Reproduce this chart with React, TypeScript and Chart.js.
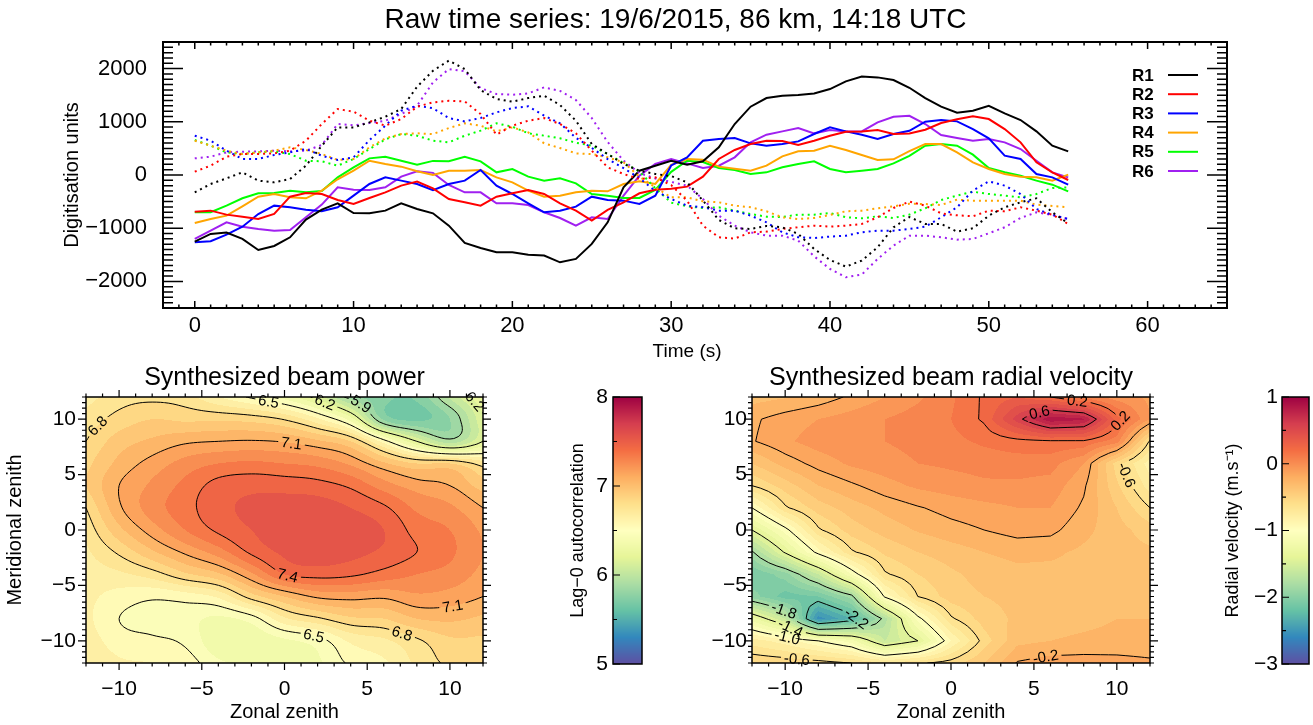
import React, { useEffect, useRef } from 'react';
import { Chart, registerables } from 'chart.js';

Chart.register(...registerables);

const FONT = "'Liberation Sans', Arial, Helvetica, sans-serif";
Chart.defaults.font.family = FONT;
Chart.defaults.color = '#000';

// ---------------- time series data ----------------
const timeSec = [0,1,2,3,4,5,6,7,8,9,10,11,12,13,14,15,16,17,18,19,20,21,22,23,24,25,26,27,28,29,30,31,32,33,34,35,36,37,38,39,40,41,42,43,44,45,46,47,48,49,50,51,52,53,54,55];

const r1Solid = [-1252,-1108,-1080,-1202,-1409,-1334,-1171,-839,-651,-532,-714,-720,-670,-532,-639,-720,-952,-1277,-1371,-1453,-1453,-1497,-1515,-1641,-1578,-1296,-889,-232,81,175,269,194,257,520,958,1284,1447,1490,1503,1534,1616,1760,1853,1835,1785,1640,1447,1284,1171,1208,1302,1158,1033,820,551,445];
const r2Solid = [-689,-670,-745,-783,-827,-733,-407,-338,-357,-470,-545,-432,-326,-200,-125,-250,-451,-513,-576,-407,-344,-282,-357,-532,-670,-858,-657,-513,-344,-276,-260,-219,-31,301,470,582,645,639,564,645,739,814,820,845,770,780,852,977,1046,1102,1052,864,614,238,50,-94];
const r3Solid = [-1265,-1246,-1121,-971,-733,-576,-607,-651,-682,-607,-388,-169,-44,-106,-169,-285,-169,-106,94,-200,-357,-532,-701,-670,-595,-407,-470,-482,-545,-388,180,332,645,676,695,595,551,582,632,770,895,820,758,676,770,830,1002,1033,1008,864,689,363,301,19,-44,-182];
const r4Solid = [-902,-827,-764,-588,-407,-357,-420,-438,-294,-80,81,269,207,157,69,0,81,81,94,-44,-138,-294,-407,-388,-326,-294,-307,-169,-119,-169,190,301,288,157,119,81,175,351,445,457,551,470,376,282,294,450,582,582,426,238,113,19,-31,-44,-106,6];
const r5Solid = [-701,-701,-576,-438,-344,-338,-294,-326,-300,-44,144,313,344,269,194,265,257,344,257,50,113,-31,-106,-63,-157,-357,-388,-432,-432,-280,60,269,244,131,94,19,50,144,207,257,113,50,81,113,219,360,551,582,551,382,131,50,-13,-106,-182,-307];
const r6Solid = [-1202,-1046,-889,-971,-1015,-1046,-1033,-795,-557,-232,-276,-282,-232,-31,69,40,-188,-326,-326,-532,-532,-564,-701,-808,-952,-795,-827,-388,-13,207,301,219,131,175,332,614,758,820,883,783,845,820,820,989,1096,1112,958,751,695,645,676,614,488,269,50,-44];

const r1Dotted = [-326,-169,-63,50,-106,-138,-75,175,551,895,895,989,1096,1240,1660,1960,2150,1991,1597,1428,1378,1447,1490,1315,1021,582,394,207,81,19,-20,-138,-480,-845,-1002,-1014,-958,-983,-1108,-1390,-1597,-1722,-1609,-1359,-983,-790,-920,-920,-1064,-1002,-764,-607,-513,-438,-701,-908];
const r2Dotted = [63,175,344,394,394,407,457,645,958,1240,1190,1021,927,1052,1284,1365,1396,1384,1146,758,927,1021,1071,958,783,457,144,19,-75,-44,-190,-482,-952,-1171,-1196,-1077,-1064,-1014,-983,-952,-971,-952,-920,-795,-620,-500,-576,-720,-758,-776,-670,-682,-607,-670,-745,-920];
const r3Dotted = [739,645,457,301,301,376,426,488,363,282,332,657,927,1208,1302,1255,1071,1008,1071,1177,1259,1290,1115,971,700,510,300,130,-60,-300,-450,-576,-607,-670,-670,-764,-889,-1077,-1171,-1184,-1158,-1140,-1077,-1046,-1046,-1014,-971,-795,-607,-294,-119,-200,-357,-639,-751,-827];
const r4Dotted = [645,551,457,394,426,457,520,470,394,282,301,520,689,770,783,770,883,971,927,820,895,801,595,507,407,394,332,238,-31,-232,-420,-420,-495,-513,-576,-607,-682,-795,-827,-808,-751,-682,-670,-626,-589,-540,-545,-564,-463,-482,-482,-482,-482,-557,-582,-607];
const r5Dotted = [657,551,426,394,426,444,394,269,257,175,301,488,670,770,739,645,614,739,833,971,908,783,739,689,607,551,394,225,69,-250,-520,-589,-620,-607,-670,-733,-783,-789,-745,-745,-714,-795,-814,-776,-808,-745,-626,-470,-388,-313,-357,-388,-420,-357,-244,-232];
const r6Dotted = [313,344,426,438,444,457,444,457,564,958,933,977,1021,1146,1302,1741,1991,1950,1634,1522,1509,1534,1647,1580,1409,1071,620,270,35,-65,-130,-200,-451,-764,-952,-1077,-1140,-1140,-1234,-1528,-1766,-1922,-1872,-1578,-1328,-1140,-1140,-1171,-1215,-1202,-1096,-983,-808,-701,-751,-827];

const seriesNames = ['R1', 'R2', 'R3', 'R4', 'R5', 'R6'];
const seriesColors = ['#000000', '#ff0000', '#0000ff', '#ffa500', '#00ff00', '#a020f0'];

const timeTicks = [0, 10, 20, 30, 40, 50, 60];
const digitTicks = [-2000, -1000, 0, 1000, 2000];

// ---------------- beam maps (grid nodes) ----------------
const zonalNodes = [-12, -10, -8, -6, -4, -2, 0, 2, 4, 6, 8, 10, 12];
const meridNodes = [12, 10, 8, 6, 4, 2, 0, -2, -4, -6, -8, -10, -12];
const zenithTicks = [-10, -5, 0, 5, 10];

const powerRows = [
  [6.66, 6.75, 6.77, 6.74, 6.60, 6.48, 6.35, 6.15, 5.85, 5.72, 5.72, 6.02, 6.30],
  [6.74, 6.84, 6.90, 6.88, 6.88, 6.86, 6.79, 6.62, 6.35, 5.78, 5.68, 5.80, 6.18],
  [6.80, 6.95, 7.02, 7.08, 7.10, 7.11, 7.09, 7.02, 6.90, 6.55, 6.20, 5.95, 6.20],
  [6.87, 7.03, 7.14, 7.24, 7.30, 7.32, 7.30, 7.27, 7.18, 7.02, 6.90, 6.90, 6.75],
  [6.90, 7.10, 7.22, 7.33, 7.44, 7.47, 7.46, 7.44, 7.38, 7.25, 7.15, 7.10, 6.95],
  [6.80, 7.08, 7.25, 7.36, 7.47, 7.52, 7.55, 7.55, 7.50, 7.42, 7.28, 7.22, 7.10],
  [6.73, 6.97, 7.15, 7.30, 7.42, 7.50, 7.56, 7.58, 7.56, 7.50, 7.36, 7.30, 7.18],
  [6.68, 6.82, 6.98, 7.12, 7.25, 7.42, 7.52, 7.55, 7.53, 7.48, 7.40, 7.32, 7.20],
  [6.65, 6.68, 6.75, 6.88, 6.98, 7.18, 7.40, 7.44, 7.42, 7.36, 7.30, 7.26, 7.17],
  [6.63, 6.56, 6.52, 6.55, 6.62, 6.85, 7.00, 7.12, 7.14, 7.12, 7.18, 7.16, 7.10],
  [6.63, 6.50, 6.46, 6.44, 6.38, 6.45, 6.68, 6.78, 6.88, 6.90, 7.00, 7.02, 6.98],
  [6.66, 6.55, 6.52, 6.48, 6.33, 6.33, 6.38, 6.45, 6.62, 6.68, 6.78, 6.88, 6.88],
  [6.70, 6.62, 6.60, 6.56, 6.42, 6.38, 6.35, 6.38, 6.52, 6.58, 6.72, 6.82, 6.82],
];

const velocityRows = [
  [-0.34, -0.31, -0.26, -0.18, -0.10, -0.02, 0.08, 0.22, 0.30, 0.20, 0.05, -0.05, -0.12],
  [-0.22, -0.15, -0.10, -0.05, 0.00, 0.05, 0.10, 0.22, 0.55, 0.88, 0.82, 0.25, -0.10],
  [-0.21, -0.12, -0.05, -0.02, 0.00, 0.03, 0.07, 0.12, 0.16, 0.18, 0.18, 0.05, -0.62],
  [-0.40, -0.26, -0.16, -0.08, -0.04, 0.00, 0.02, 0.04, 0.05, 0.04, -0.10, -0.55, -0.85],
  [-0.60, -0.45, -0.30, -0.22, -0.14, -0.08, -0.05, -0.02, -0.02, -0.04, -0.18, -0.48, -0.75],
  [-1.00, -0.62, -0.45, -0.35, -0.27, -0.21, -0.16, -0.13, -0.10, -0.10, -0.22, -0.40, -0.60],
  [-1.40, -1.05, -0.62, -0.45, -0.36, -0.29, -0.24, -0.20, -0.16, -0.17, -0.27, -0.36, -0.45],
  [-1.82, -1.38, -0.95, -0.62, -0.48, -0.40, -0.35, -0.30, -0.27, -0.28, -0.32, -0.36, -0.38],
  [-2.10, -1.95, -1.60, -1.10, -0.62, -0.50, -0.42, -0.36, -0.33, -0.33, -0.33, -0.33, -0.33],
  [-1.95, -2.15, -2.10, -1.85, -0.98, -0.60, -0.45, -0.40, -0.37, -0.36, -0.34, -0.33, -0.32],
  [-1.25, -1.60, -2.55, -2.30, -1.75, -1.05, -0.62, -0.45, -0.38, -0.35, -0.33, -0.30, -0.30],
  [-0.75, -0.85, -1.00, -1.15, -1.60, -1.40, -0.90, -0.55, -0.33, -0.30, -0.28, -0.27, -0.27],
  [-0.50, -0.52, -0.55, -0.60, -0.68, -0.62, -0.55, -0.40, -0.19, -0.15, -0.15, -0.16, -0.18],
];

const powerLevels = [5.9, 6.2, 6.5, 6.8, 7.1, 7.4];
const velocityLevels = [-2.2, -1.8, -1.4, -1.0, -0.6, -0.2, 0.2, 0.6];

const powerLabels = [
  { x: -11.3, y: 9.4, text: '6.8' },
  { x: -1.0, y: 11.2, text: '6.5' },
  { x: 2.3, y: 10.9, text: '6.2' },
  { x: 4.4, y: 10.9, text: '5.9' },
  { x: 10.7, y: 10.6, text: '6.2' },
  { x: 0.4, y: 7.5, text: '7.1' },
  { x: 0.3, y: -3.6, text: '7.4' },
  { x: 10.2, y: -7.2, text: '7.1' },
  { x: 6.8, y: -10.2, text: '6.8' },
  { x: 1.7, y: -9.9, text: '6.5' },
];
const velocityLabels = [
  { x: 5.3, y: 11.3, text: '0.6' },
  { x: 7.6, y: 11.4, text: '0.2' },
  { x: 10.6, y: 9.3, text: '0.2' },
  { x: 10.8, y: 5.1, text: '-0.6' },
  { x: -10.1, y: -7.4, text: '-1.8' },
  { x: -9.6, y: -8.6, text: '-1.4' },
  { x: -9.9, y: -9.9, text: '-1.0' },
  { x: -9.3, y: -11.7, text: '-0.6' },
  { x: -5.4, y: -7.4, text: '-2.2' },
  { x: 5.7, y: -11.4, text: '-0.2' },
];

const powerBarTicks = [5, 6, 7, 8];
const velocityBarTicks = [-3, -2, -1, 0, 1];

// ---------------- helpers ----------------
const SPECTRAL = ['#5e4fa2', '#3288bd', '#66c2a5', '#abdda4', '#e6f598', '#ffffbf', '#fee08b', '#fdae61', '#f46d43', '#d53e4f', '#9e0142'];
const SPECTRAL_RGB = SPECTRAL.map((h) => [parseInt(h.slice(1, 3), 16), parseInt(h.slice(3, 5), 16), parseInt(h.slice(5, 7), 16)]);

function cmap(t: number): [number, number, number] {
  const u = Math.max(0, Math.min(1, t)) * (SPECTRAL_RGB.length - 1);
  const i = Math.min(SPECTRAL_RGB.length - 2, Math.floor(u));
  const f = u - i;
  const a = SPECTRAL_RGB[i], b = SPECTRAL_RGB[i + 1];
  return [a[0] + (b[0] - a[0]) * f, a[1] + (b[1] - a[1]) * f, a[2] + (b[2] - a[2]) * f];
}

const fmtTick = (v: any) => String(v).replace('-', '\u2212');

function catmull(p0: number, p1: number, p2: number, p3: number, t: number) {
  const t2 = t * t, t3 = t2 * t;
  return 0.5 * (2 * p1 + (-p0 + p2) * t + (2 * p0 - 5 * p1 + 4 * p2 - p3) * t2 + (-p0 + 3 * p1 - 3 * p2 + p3) * t3);
}

// field reconstruction between grid nodes (bilinear or Catmull-Rom, as a contouring routine does)
function makeInterp(gx: number[], gy: number[], rows: number[][], smooth: boolean) {
  const nx = gx.length, ny = gy.length;
  const at = (j: number, i: number): number => {
    if (i < 0) return 2 * at(j, 0) - at(j, 1);
    if (i > nx - 1) return 2 * at(j, nx - 1) - at(j, nx - 2);
    if (j < 0) return 2 * at(0, i) - at(1, i);
    if (j > ny - 1) return 2 * at(ny - 1, i) - at(ny - 2, i);
    return rows[j][i];
  };
  return (x: number, y: number) => {
    let i = 0;
    while (i < nx - 2 && x > gx[i + 1]) i++;
    let j = 0;
    while (j < ny - 2 && y < gy[j + 1]) j++;
    const tx = Math.max(0, Math.min(1, (x - gx[i]) / (gx[i + 1] - gx[i])));
    const ty = Math.max(0, Math.min(1, (gy[j] - y) / (gy[j] - gy[j + 1])));
    if (!smooth) {
      const a = rows[j][i], b = rows[j][i + 1], c = rows[j + 1][i], d = rows[j + 1][i + 1];
      return a * (1 - tx) * (1 - ty) + b * tx * (1 - ty) + c * (1 - tx) * ty + d * tx * ty;
    }
    const r: number[] = [];
    for (let k = -1; k <= 2; k++) {
      r.push(catmull(at(j + k, i - 1), at(j + k, i), at(j + k, i + 1), at(j + k, i + 2), tx));
    }
    return catmull(r[0], r[1], r[2], r[3], ty);
  };
}

function makeContourPlugin(cfg: any) {
  return {
    id: 'contourField',
    beforeDatasetsDraw(chart: any) {
      const { ctx, chartArea: a } = chart;
      const xs = chart.scales.x, ys = chart.scales.y;
      const f = makeInterp(cfg.gx, cfg.gy, cfg.rows, cfg.smooth);
      const { lo, hi, step } = cfg;

      // filled bands
      const w = Math.round(a.right - a.left), h = Math.round(a.bottom - a.top);
      const off = document.createElement('canvas');
      off.width = w; off.height = h;
      const octx = off.getContext('2d')!;
      const img = octx.createImageData(w, h);
      const cache: Record<number, [number, number, number]> = {};
      const xv = new Array(w);
      for (let i = 0; i < w; i++) xv[i] = xs.getValueForPixel(a.left + i + 0.5);
      for (let j = 0; j < h; j++) {
        const yv = ys.getValueForPixel(a.top + j + 0.5);
        for (let i = 0; i < w; i++) {
          const v = f(xv[i], yv);
          const band = Math.floor((v - lo) / step);
          let c = cache[band];
          if (!c) { c = cmap((lo + (band + 0.5) * step - lo) / (hi - lo)); cache[band] = c; }
          const k = (j * w + i) * 4;
          img.data[k] = c[0]; img.data[k + 1] = c[1]; img.data[k + 2] = c[2]; img.data[k + 3] = 255;
        }
      }
      octx.putImageData(img, 0, 0);
      ctx.drawImage(off, a.left, a.top);

      // labels: snap to contour & orientation
      const sx = 1 / (xs.getPixelForValue(1) - xs.getPixelForValue(0));
      const sy = 1 / (ys.getPixelForValue(1) - ys.getPixelForValue(0));
      ctx.save();
      ctx.font = `${cfg.labelSize}px ${FONT}`;
      const placed = cfg.labels.map((lab: any) => {
        const L = parseFloat(lab.text);
        let x = lab.x, y = lab.y;
        let gxp = 0, gyp = 0;
        for (let k = 0; k < 12; k++) {
          const e = 0.02;
          const v = f(x, y);
          const dvdx = (f(x + e, y) - f(x - e, y)) / (2 * e);
          const dvdy = (f(x, y + e) - f(x, y - e)) / (2 * e);
          gxp = dvdx * sx; gyp = dvdy * sy;
          const g2 = gxp * gxp + gyp * gyp;
          if (g2 < 1e-12) break;
          let dpx = -(v - L) * gxp / g2, dpy = -(v - L) * gyp / g2;
          const m = Math.hypot(dpx, dpy);
          if (m > 10) { dpx *= 10 / m; dpy *= 10 / m; }
          x += dpx * sx; y += dpy * sy;
        }
        let ang = Math.atan2(gxp, -gyp);
        if (ang > Math.PI / 2) ang -= Math.PI;
        if (ang < -Math.PI / 2) ang += Math.PI;
        const px = xs.getPixelForValue(x), py = ys.getPixelForValue(y);
        const tw = ctx.measureText(lab.text).width;
        return { px, py, ang, tw, text: lab.text };
      });

      // contour lines with gaps around labels
      ctx.beginPath();
      ctx.rect(a.left, a.top, a.right - a.left, a.bottom - a.top);
      for (const p of placed) {
        const hw = p.tw / 2 + 3, hh = cfg.labelSize * 0.5;
        const ca = Math.cos(p.ang), sa = Math.sin(p.ang);
        const pts = [[-hw, -hh], [hw, -hh], [hw, hh], [-hw, hh]].map(([u, v]) => [p.px + u * ca - v * sa, p.py + u * sa + v * ca]);
        ctx.moveTo(pts[0][0], pts[0][1]);
        for (let k = 1; k < 4; k++) ctx.lineTo(pts[k][0], pts[k][1]);
        ctx.closePath();
      }
      ctx.clip('evenodd');

      const S = cfg.smooth ? 8 : 4;
      const LX: number[] = [], LY: number[] = [];
      for (let i = 0; i < cfg.gx.length - 1; i++) for (let s = 0; s < S; s++) LX.push(cfg.gx[i] + (cfg.gx[i + 1] - cfg.gx[i]) * s / S);
      LX.push(cfg.gx[cfg.gx.length - 1]);
      for (let j = 0; j < cfg.gy.length - 1; j++) for (let s = 0; s < S; s++) LY.push(cfg.gy[j] + (cfg.gy[j + 1] - cfg.gy[j]) * s / S);
      LY.push(cfg.gy[cfg.gy.length - 1]);
      const F = LY.map((y) => LX.map((x) => f(x, y)));
      const PX = LX.map((x) => xs.getPixelForValue(x));
      const PY = LY.map((y) => ys.getPixelForValue(y));
      ctx.strokeStyle = '#000';
      ctx.lineWidth = 1;
      for (const L of cfg.levels) {
        ctx.beginPath();
        for (let j = 0; j < LY.length - 1; j++) {
          for (let i = 0; i < LX.length - 1; i++) {
            const va = F[j][i], vb = F[j][i + 1], vc = F[j + 1][i + 1], vd = F[j + 1][i];
            const ax = PX[i], bx = PX[i + 1], ty = PY[j], by = PY[j + 1];
            const cross = (v1: number, v2: number, x1: number, y1: number, x2: number, y2: number) => {
              if ((v1 > L) === (v2 > L)) return null;
              const t = (L - v1) / (v2 - v1);
              return [x1 + (x2 - x1) * t, y1 + (y2 - y1) * t];
            };
            const eTop = cross(va, vb, ax, ty, bx, ty);
            const eRight = cross(vb, vc, bx, ty, bx, by);
            const eBottom = cross(vd, vc, ax, by, bx, by);
            const eLeft = cross(va, vd, ax, ty, ax, by);
            const es = [eTop, eRight, eBottom, eLeft].filter((e) => e) as number[][];
            const seg = (p: any, q: any) => { ctx.moveTo(p[0], p[1]); ctx.lineTo(q[0], q[1]); };
            if (es.length === 2) seg(es[0], es[1]);
            else if (es.length === 4) {
              const m = (va + vb + vc + vd) / 4;
              if ((m > L) === (va > L)) { seg(eTop, eRight); seg(eBottom, eLeft); }
              else { seg(eTop, eLeft); seg(eRight, eBottom); }
            }
          }
        }
        ctx.stroke();
      }
      ctx.restore();

      // label text
      ctx.save();
      ctx.font = `${cfg.labelSize}px ${FONT}`;
      ctx.fillStyle = '#000';
      ctx.textAlign = 'center';
      ctx.textBaseline = 'middle';
      for (const p of placed) {
        ctx.save();
        ctx.translate(p.px, p.py);
        ctx.rotate(p.ang);
        ctx.fillText(p.text, 0, 1);
        ctx.restore();
      }
      ctx.restore();
    },
  };
}

function makeColorbarPlugin(lo: number, hi: number) {
  return {
    id: 'colorbarFill',
    beforeDatasetsDraw(chart: any) {
      const { ctx, chartArea: a } = chart;
      const ys = chart.scales.y;
      for (let py = Math.floor(a.top); py < Math.ceil(a.bottom); py++) {
        const v = ys.getValueForPixel(py + 0.5);
        const c = cmap((v - lo) / (hi - lo));
        ctx.fillStyle = `rgb(${Math.round(c[0])},${Math.round(c[1])},${Math.round(c[2])})`;
        ctx.fillRect(a.left, py, a.right - a.left, 1);
      }
    },
  };
}

function makeFramePlugin(cfg: any) {
  return {
    id: 'frameTicks',
    afterDraw(chart: any) {
      const { ctx, chartArea: a } = chart;
      const xs = chart.scales.x, ys = chart.scales.y;
      const s = cfg.inward ? 1 : -1;
      ctx.save();
      ctx.strokeStyle = '#000';
      ctx.lineWidth = cfg.tickWidth;
      ctx.lineCap = 'butt';
      ctx.beginPath();
      const collect = (scale: any, spec: any) => {
        const out: number[][] = [];
        for (const v of spec.major) out.push([v, spec.majorLen]);
        const st = spec.minorStep;
        for (let k = Math.ceil(scale.min / st - 1e-9); k * st <= scale.max + 1e-9; k++) {
          const v = k * st;
          if (!spec.major.some((m: number) => Math.abs(m - v) < 1e-9)) out.push([v, spec.minorLen]);
        }
        return out;
      };
      if (cfg.x) {
        for (const [v, len] of collect(xs, cfg.x)) {
          const p = xs.getPixelForValue(v);
          if (p < a.left - 0.5 || p > a.right + 0.5) continue;
          if (cfg.x.bottom) { ctx.moveTo(p, a.bottom); ctx.lineTo(p, a.bottom - s * len); }
          if (cfg.x.top) { ctx.moveTo(p, a.top); ctx.lineTo(p, a.top + s * len); }
        }
      }
      if (cfg.y) {
        for (const [v, len] of collect(ys, cfg.y)) {
          const p = ys.getPixelForValue(v);
          if (p < a.top - 0.5 || p > a.bottom + 0.5) continue;
          if (cfg.y.left) { ctx.moveTo(a.left, p); ctx.lineTo(a.left + s * len, p); }
          if (cfg.y.right) { ctx.moveTo(a.right, p); ctx.lineTo(a.right - s * len, p); }
        }
      }
      ctx.stroke();
      ctx.lineWidth = cfg.frameWidth;
      ctx.strokeRect(a.left, a.top, a.right - a.left, a.bottom - a.top);
      ctx.restore();
    },
  };
}

function makeLegendPlugin(cfg: any) {
  return {
    id: 'seriesLegend',
    afterDatasetsDraw(chart: any) {
      const { ctx } = chart;
      const items = chart.data.datasets.filter((d: any) => d.inLegend);
      ctx.save();
      ctx.font = `bold ${cfg.size}px ${FONT}`;
      ctx.textBaseline = 'middle';
      ctx.textAlign = 'left';
      items.forEach((d: any, k: number) => {
        const y = cfg.y0 + k * cfg.dy;
        ctx.fillStyle = '#000';
        ctx.fillText(d.label, cfg.textX, y + 1);
        ctx.strokeStyle = d.borderColor;
        ctx.lineWidth = 2;
        ctx.beginPath();
        ctx.moveTo(cfg.lineX0, y);
        ctx.lineTo(cfg.lineX1, y);
        ctx.stroke();
      });
      ctx.restore();
    },
  };
}

const tickFont = (size: number) => ({ family: FONT, size, weight: 'normal' as const });

// ---------------- chart builders ----------------
function buildTimeSeries(canvas: HTMLCanvasElement) {
  const solid = [r1Solid, r2Solid, r3Solid, r4Solid, r5Solid, r6Solid];
  const dotted = [r1Dotted, r2Dotted, r3Dotted, r4Dotted, r5Dotted, r6Dotted];
  const datasets: any[] = [];
  dotted.forEach((arr, k) => datasets.push({
    label: seriesNames[k] + ' (dotted)', data: timeSec.map((t, i) => ({ x: t, y: arr[i] })),
    borderColor: seriesColors[k], borderWidth: 2, borderDash: [2, 4], pointRadius: 0, tension: 0, fill: false, inLegend: false,
  }));
  solid.forEach((arr, k) => datasets.push({
    label: seriesNames[k], data: timeSec.map((t, i) => ({ x: t, y: arr[i] })),
    borderColor: seriesColors[k], borderWidth: 2, pointRadius: 0, tension: 0, fill: false, inLegend: true,
  }));
  return new Chart(canvas, {
    type: 'line',
    data: { datasets },
    plugins: [
      makeFramePlugin({ inward: true, tickWidth: 1.5, frameWidth: 2,
        x: { major: timeTicks, minorStep: 1, majorLen: 7, minorLen: 3.5, top: true, bottom: true },
        y: { major: digitTicks, minorStep: 100, majorLen: 20, minorLen: 10, left: true, right: true } }),
      makeLegendPlugin({ size: 17, textX: 1132, lineX0: 1168, lineX1: 1198, y0: 75, dy: 19.2 }),
    ],
    options: {
      animation: false, responsive: false, maintainAspectRatio: false,
      layout: { padding: { left: 0, right: 86, top: 0, bottom: 0 } },
      plugins: {
        legend: { display: false }, tooltip: { enabled: false },
        title: { display: true, fullSize: false, text: 'Raw time series: 19/6/2015, 86 km, 14:18 UTC\u00A0\u00A0\u00A0\u00A0\u00A0', color: '#000',
          font: { family: FONT, size: 28, weight: 'normal' }, padding: { top: 3, bottom: 5.4 } },
      },
      scales: {
        x: {
          type: 'linear', min: -2, max: 65,
          afterBuildTicks: (s: any) => { s.ticks = timeTicks.map((v) => ({ value: v })); },
          afterFit: (s: any) => { s.height = 62; },
          ticks: { font: tickFont(22), color: '#000', padding: 5, maxRotation: 0, autoSkip: false, callback: fmtTick },
          grid: { display: false, drawTicks: false }, border: { display: false },
          title: { display: true, text: 'Time (s)\u00A0\u00A0\u00A0', color: '#000', font: { family: FONT, size: 19 }, padding: { top: 0, bottom: 7 } },
        },
        y: {
          type: 'linear', min: -2500, max: 2500,
          afterBuildTicks: (s: any) => { s.ticks = digitTicks.map((v) => ({ value: v })); },
          afterFit: (s: any) => { s.width = 163; },
          ticks: { font: tickFont(22), color: '#000', padding: 16, callback: fmtTick },
          grid: { display: false, drawTicks: false }, border: { display: false },
          title: { display: true, text: 'Digitisation units', color: '#000', font: { family: FONT, size: 20 }, padding: { top: 60, bottom: 0 } },
        },
      },
    } as any,
  });
}

function buildMap(canvas: HTMLCanvasElement, o: any) {
  return new Chart(canvas, {
    type: 'scatter',
    data: { datasets: [{ data: [], pointRadius: 0 }] },
    plugins: [
      makeContourPlugin({ gx: zonalNodes, gy: meridNodes, rows: o.rows, lo: o.lo, hi: o.hi, step: 0.1, levels: o.levels, labels: o.labels, labelSize: 15, smooth: o.smooth }),
      makeFramePlugin({ inward: false, tickWidth: 1.2, frameWidth: 1.5,
        x: { major: zenithTicks, minorStep: 1, majorLen: 7, minorLen: 3.5, top: true, bottom: true },
        y: { major: zenithTicks, minorStep: 0.5, majorLen: 8, minorLen: 4, left: true, right: true } }),
    ],
    options: {
      animation: false, responsive: false, maintainAspectRatio: false,
      layout: { padding: { left: 0, right: o.padRight, top: 0, bottom: 0 } },
      plugins: {
        legend: { display: false }, tooltip: { enabled: false },
        title: { display: true, fullSize: false, text: o.title, color: '#000', font: { family: FONT, size: 25, weight: 'normal' }, padding: { top: 3, bottom: 4 } },
      },
      scales: {
        x: {
          type: 'linear', min: -12, max: 12,
          afterBuildTicks: (s: any) => { s.ticks = zenithTicks.map((v) => ({ value: v })); },
          afterFit: (s: any) => { s.height = 62; },
          ticks: { font: tickFont(21), color: '#000', padding: 14, maxRotation: 0, autoSkip: false, callback: fmtTick },
          grid: { display: false, drawTicks: false }, border: { display: false },
          title: { display: true, text: 'Zonal zenith', color: '#000', font: { family: FONT, size: 20 }, padding: { top: 0, bottom: 1 } },
        },
        y: {
          type: 'linear', min: -12, max: 12,
          afterBuildTicks: (s: any) => { s.ticks = zenithTicks.map((v) => ({ value: v })); },
          afterFit: (s: any) => { s.width = o.axisWidth; },
          ticks: { font: tickFont(21), color: '#000', padding: o.yPad, callback: fmtTick },
          grid: { display: false, drawTicks: false }, border: { display: false },
          title: { display: !!o.yTitle, text: o.yTitle || '', color: '#000', font: { family: FONT, size: 20 }, padding: { top: 3.5, bottom: 0 } },
        },
      },
    } as any,
  });
}

function buildColorbar(canvas: HTMLCanvasElement, o: any) {
  return new Chart(canvas, {
    type: 'scatter',
    data: { datasets: [{ data: [], pointRadius: 0 }] },
    plugins: [
      makeColorbarPlugin(o.lo, o.hi),
      makeFramePlugin({ inward: true, tickWidth: 1.2, frameWidth: 1.5,
        y: { major: o.ticks, minorStep: 0.5, majorLen: 7, minorLen: 4, left: true, right: false } }),
    ],
    options: {
      animation: false, responsive: false, maintainAspectRatio: false,
      layout: { padding: { left: 0, right: o.padRight, top: 37, bottom: 61 } },
      plugins: { legend: { display: false }, tooltip: { enabled: false } },
      scales: {
        x: { type: 'linear', display: false, min: 0, max: 1 },
        y: {
          type: 'linear', min: o.lo, max: o.hi,
          afterBuildTicks: (s: any) => { s.ticks = o.ticks.map((v: number) => ({ value: v })); },
          afterFit: (s: any) => { s.width = o.axisWidth; },
          ticks: { font: tickFont(21), color: '#000', padding: o.yPad, callback: fmtTick },
          grid: { display: false, drawTicks: false }, border: { display: false },
          title: { display: true, text: o.title, color: '#000', font: { family: FONT, size: 18 }, padding: { top: o.titlePad, bottom: 0 } },
        },
      },
    } as any,
  });
}

function ChartCanvas(props: { left: number; top: number; width: number; height: number; build: (c: HTMLCanvasElement) => Chart }) {
  const ref = useRef<HTMLCanvasElement>(null);
  useEffect(() => {
    const chart = props.build(ref.current as HTMLCanvasElement);
    return () => chart.destroy();
  }, []);
  return (
    <canvas ref={ref} width={props.width} height={props.height}
      style={{ position: 'absolute', left: props.left, top: props.top, width: props.width, height: props.height }} />
  );
}

export default function App() {
  return (
    <div style={{ position: 'fixed', left: 0, top: 0, width: 1313, height: 725, background: '#fff', overflow: 'hidden' }}>
      <ChartCanvas left={0} top={0} width={1313} height={370} build={buildTimeSeries} />
      <ChartCanvas left={0} top={360} width={560} height={365}
        build={(c) => buildMap(c, { rows: powerRows, lo: 5, hi: 8, levels: powerLevels, labels: powerLabels, smooth: true,
          title: 'Synthesized beam power', padRight: 77, axisWidth: 86, yPad: 10, yTitle: 'Meridional zenith' })} />
      <ChartCanvas left={560} top={360} width={100} height={365}
        build={(c) => buildColorbar(c, { lo: 5, hi: 8, ticks: powerBarTicks, title: 'Lag\u22120 autocorrelation',
          padRight: 18, axisWidth: 53, yPad: 5, titlePad: 7 })} />
      <ChartCanvas left={660} top={360} width={560} height={365}
        build={(c) => buildMap(c, { rows: velocityRows, lo: -3, hi: 1, levels: velocityLevels, labels: velocityLabels, smooth: false,
          title: 'Synthesized beam radial velocity', padRight: 70, axisWidth: 92, yPad: 5, yTitle: '' })} />
      <ChartCanvas left={1220} top={360} width={93} height={365}
        build={(c) => buildColorbar(c, { lo: -3, hi: 1, ticks: velocityBarTicks, title: 'Radial velocity (m.s\u207B\u00B9)',
          padRight: 4, axisWidth: 62, yPad: 4, titlePad: 2 })} />
    </div>
  );
}
